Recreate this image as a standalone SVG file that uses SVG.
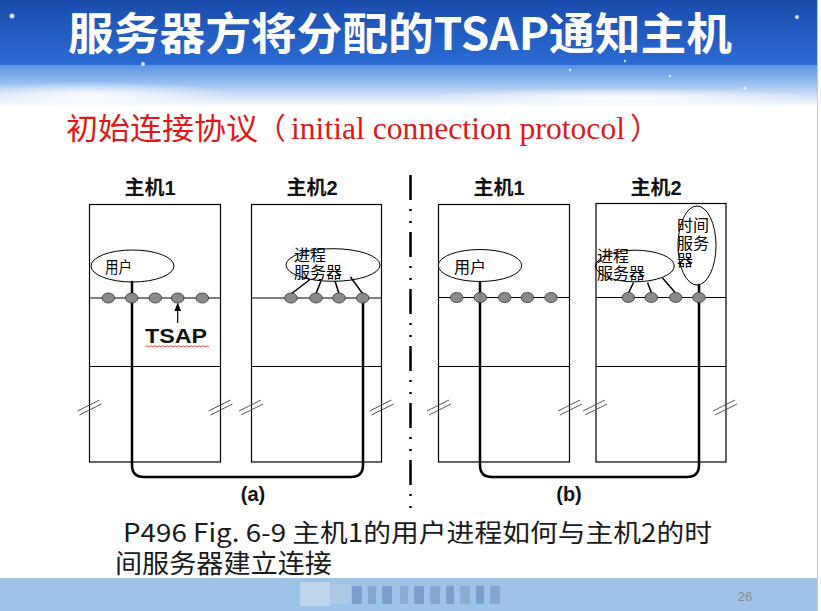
<svg xmlns="http://www.w3.org/2000/svg" width="821" height="611" viewBox="0 0 821 611">
<defs>
<linearGradient id="bgTop" x1="0" y1="0" x2="0" y2="1">
<stop offset="0" stop-color="#1a4bab"/>
<stop offset="1" stop-color="#2b6cd3"/>
</linearGradient>
<linearGradient id="bgFade" x1="0" y1="0" x2="0" y2="1">
<stop offset="0" stop-color="#5a92e2"/>
<stop offset="0.45" stop-color="#9cc0f0"/>
<stop offset="1" stop-color="#ffffff"/>
</linearGradient>
<radialGradient id="cloud" cx="0.5" cy="0.5" r="0.5">
<stop offset="0" stop-color="#ffffff" stop-opacity="0.95"/>
<stop offset="1" stop-color="#ffffff" stop-opacity="0"/>
</radialGradient>
<marker id="arr" viewBox="0 0 10 10" refX="9" refY="5" markerWidth="7" markerHeight="7" orient="auto">
<path d="M0,1 L10,5 L0,9 z" fill="#000"/>
</marker>
<g id="hash">
<line x1="-12" y1="4" x2="10" y2="-7"/>
<line x1="-10" y1="8" x2="12" y2="-3"/>
</g>
<style>
.box{fill:none;stroke:#000;stroke-width:1.2}
.ell{fill:#fff;stroke:#000;stroke-width:1}
.ellc{fill:none;stroke:#000;stroke-width:1}
.port{fill:#8a8a8a;stroke:#333;stroke-width:0.8}
.conn{fill:none;stroke:#000;stroke-width:2.5;stroke-linecap:round}
.thin{stroke:#000;stroke-width:1.5}
.hl{fill:none;stroke:#000;stroke-width:1.2}
.lbl{font-family:"Liberation Sans","Noto Sans CJK SC",sans-serif;font-weight:bold;font-size:20px;fill:#111;text-anchor:middle}
.in{font-family:"Noto Sans CJK SC",sans-serif;font-size:16px;fill:#000}
.hash{stroke:#555;stroke-width:1;fill:none}
</style>
</defs>

<!-- background -->
<rect x="0" y="0" width="821" height="611" fill="#ffffff"/>
<rect x="0" y="0" width="817" height="65" fill="url(#bgTop)"/>
<rect x="0" y="65" width="817" height="42" fill="url(#bgFade)"/>
<ellipse cx="90" cy="96" rx="150" ry="14" fill="url(#cloud)"/>
<ellipse cx="620" cy="98" rx="200" ry="10" fill="url(#cloud)"/>
<g fill="#ffffff" opacity="0.8">
<circle cx="12" cy="16" r="2.5"/>
<circle cx="143" cy="64" r="2"/>
<circle cx="625" cy="61" r="1.2"/>
<circle cx="570" cy="70" r="1.2"/>
<circle cx="670" cy="76" r="1.2"/>
<circle cx="745" cy="88" r="1.5"/>
<circle cx="797" cy="17" r="2"/>
</g>
<line x1="817.5" y1="0" x2="817.5" y2="611" stroke="#c8c8c8" stroke-width="1"/>
<rect x="0" y="578" width="817" height="33" fill="#9dc3e6"/>
<g opacity="0.75">
<rect x="300" y="582" width="30" height="24" fill="#c9dcef"/>
<rect x="330" y="584" width="20" height="20" fill="#b3cbe6"/>
<rect x="352" y="586" width="10" height="18" fill="#6f93c2"/>
<rect x="368" y="586" width="8" height="18" fill="#7c9dc8"/>
<rect x="382" y="586" width="10" height="18" fill="#6f93c2"/>
<rect x="400" y="586" width="8" height="18" fill="#86a5cd"/>
<rect x="414" y="586" width="10" height="18" fill="#6f93c2"/>
<rect x="430" y="586" width="10" height="18" fill="#7c9dc8"/>
<rect x="446" y="586" width="8" height="18" fill="#6f93c2"/>
<rect x="460" y="586" width="10" height="18" fill="#86a5cd"/>
<rect x="476" y="586" width="8" height="18" fill="#6f93c2"/>
<rect x="490" y="586" width="10" height="18" fill="#7c9dc8"/>
</g>
<text x="745" y="601" font-family="Liberation Sans, sans-serif" font-size="13" fill="#8c8c8c" text-anchor="middle">26</text>

<!-- title -->
<text x="68" y="50" font-family="'Noto Sans CJK SC', sans-serif" font-weight="bold" font-size="44" fill="#ffffff" textLength="664" lengthAdjust="spacingAndGlyphs">服务器方将分配的TSAP通知主机</text>

<!-- subtitle -->
<g fill="#e01818">
<text x="66" y="139" font-family="'Noto Sans CJK SC', sans-serif" font-size="30" textLength="192" lengthAdjust="spacingAndGlyphs">初始连接协议</text>
<text x="256" y="139" font-family="'Noto Sans CJK SC', sans-serif" font-size="30">（</text>
<text x="291" y="139" font-family="'Liberation Serif', serif" font-size="31" textLength="334" lengthAdjust="spacingAndGlyphs">initial connection protocol</text>
<text x="630" y="139" font-family="'Noto Sans CJK SC', sans-serif" font-size="30">）</text>
</g>

<!-- divider -->
<line x1="410.5" y1="175" x2="410.5" y2="508" stroke="#000" stroke-width="2.5" stroke-dasharray="25 9 2 10 2 9"/>

<!-- (a) host 1 -->
<g id="a-host1">
<text class="lbl" x="150" y="195">主机1</text>
<rect class="box" x="89.5" y="204.5" width="131" height="257.5"/>
<line class="hl" x1="89.5" y1="298" x2="220.5" y2="298"/>
<line class="hl" x1="89.5" y1="366.5" x2="220.5" y2="366.5"/>
<ellipse class="ell" cx="132.5" cy="266" rx="41.5" ry="16"/>
<text class="in" x="105" y="273" font-size="14" textLength="27" lengthAdjust="spacingAndGlyphs">用户</text>
</g>

<!-- (a) host 2 -->
<g id="a-host2">
<text class="lbl" x="312" y="195">主机2</text>
<rect class="box" x="251.5" y="204.5" width="130" height="257.5"/>
<line class="hl" x1="251.5" y1="298" x2="381.5" y2="298"/>
<line class="hl" x1="251.5" y1="366.5" x2="381.5" y2="366.5"/>
<ellipse class="ell" cx="333" cy="265" rx="47" ry="16.3"/>
<text class="in" x="294" y="261">进程<tspan x="294" dy="17">服务器</tspan></text>
</g>

<!-- (b) host 1 -->
<g id="b-host1">
<text class="lbl" x="499" y="195">主机1</text>
<rect class="box" x="438.5" y="204.5" width="131" height="257.5"/>
<line class="hl" x1="438.5" y1="297.5" x2="569.5" y2="297.5"/>
<line class="hl" x1="438.5" y1="366.5" x2="569.5" y2="366.5"/>
<ellipse class="ell" cx="480" cy="265.5" rx="41.7" ry="16"/>
<text class="in" x="454" y="273" font-size="18">用户</text>
</g>

<!-- (b) host 2 -->
<g id="b-host2">
<text class="lbl" x="656" y="195">主机2</text>
<rect class="box" x="596" y="203.5" width="130" height="258.5"/>
<line class="hl" x1="596" y1="297.5" x2="726" y2="297.5"/>
<line class="hl" x1="596" y1="366.5" x2="726" y2="366.5"/>
<ellipse class="ellc" cx="635" cy="266" rx="39.3" ry="15.8"/>
<text class="in" x="597" y="262">进程<tspan x="597" dy="17">服务器</tspan></text>
<ellipse class="ellc" cx="697" cy="245.5" rx="19" ry="39.5"/>
<text class="in" x="677" y="231">时间<tspan x="677" dy="18">服务</tspan><tspan x="677" dy="16.5">器</tspan></text>
</g>

<!-- break marks -->
<g id="breaks" class="hash">
<use href="#hash" x="89.5" y="407"/>
<use href="#hash" x="220.5" y="407"/>
<use href="#hash" x="251" y="407"/>
<use href="#hash" x="381.5" y="407"/>
<use href="#hash" x="439" y="407"/>
<use href="#hash" x="570" y="407"/>
<use href="#hash" x="595" y="407"/>
<use href="#hash" x="725" y="407"/>
</g>

<!-- connectors -->
<g id="connectors">
<path class="conn" d="M132,282 V465 Q132,477 144,477 H351 Q363,477 363,465 V298"/>
<path class="conn" d="M480,282 V465 Q480,477 492,477 H687 Q699,477 699,465 V285"/>
<line class="thin" x1="291" y1="294" x2="310" y2="279.5"/>
<line class="thin" x1="316" y1="293.5" x2="321" y2="281"/>
<line class="thin" x1="339" y1="293.5" x2="335" y2="281"/>
<line class="thin" x1="362.5" y1="293.5" x2="350.5" y2="277"/>
<line class="thin" x1="628.5" y1="293" x2="633.5" y2="282.5"/>
<line class="thin" x1="651.5" y1="293" x2="647.5" y2="282.5"/>
<line class="thin" x1="675.5" y1="293" x2="662.5" y2="278"/>
<line x1="177.7" y1="323" x2="177.7" y2="303.5" stroke="#000" stroke-width="1.2" marker-end="url(#arr)"/>
</g>

<!-- ports -->
<g id="a-host1-ports">
<ellipse class="port" cx="108.3" cy="298" rx="6.3" ry="5"/>
<ellipse class="port" cx="131.7" cy="298" rx="6.3" ry="5"/>
<ellipse class="port" cx="155.3" cy="298" rx="6.3" ry="5"/>
<ellipse class="port" cx="177.7" cy="298" rx="6.3" ry="5"/>
<ellipse class="port" cx="202.3" cy="298" rx="6.3" ry="5"/>
</g>
<g id="a-host2-ports">
<ellipse class="port" cx="291" cy="298" rx="6.3" ry="5"/>
<ellipse class="port" cx="316" cy="298" rx="6.3" ry="5"/>
<ellipse class="port" cx="339" cy="298" rx="6.3" ry="5"/>
<ellipse class="port" cx="362.7" cy="298" rx="6.3" ry="5"/>
</g>
<g id="b-host1-ports">
<ellipse class="port" cx="456.7" cy="297.5" rx="6.3" ry="5"/>
<ellipse class="port" cx="480.3" cy="297.5" rx="6.3" ry="5"/>
<ellipse class="port" cx="504.7" cy="297.5" rx="6.3" ry="5"/>
<ellipse class="port" cx="527.3" cy="297.5" rx="6.3" ry="5"/>
<ellipse class="port" cx="551" cy="297.5" rx="6.3" ry="5"/>
</g>
<g id="b-host2-ports">
<ellipse class="port" cx="628.3" cy="297.5" rx="6.3" ry="5"/>
<ellipse class="port" cx="651.3" cy="297.5" rx="6.3" ry="5"/>
<ellipse class="port" cx="675.7" cy="297.5" rx="6.3" ry="5"/>
<ellipse class="port" cx="699" cy="297.5" rx="6.3" ry="5"/>
</g>

<!-- TSAP label -->
<g id="tsap">
<text x="145" y="343" font-family="'Liberation Sans', sans-serif" font-weight="bold" font-size="21" fill="#111" textLength="62" lengthAdjust="spacingAndGlyphs">TSAP</text>
<path d="M145,347 l2,-1.3 l2,1.3 l2,-1.3 l2,1.3 l2,-1.3 l2,1.3 l2,-1.3 l2,1.3 l2,-1.3 l2,1.3 l2,-1.3 l2,1.3 l2,-1.3 l2,1.3 l2,-1.3 l2,1.3 l2,-1.3 l2,1.3 l2,-1.3 l2,1.3 l2,-1.3 l2,1.3 l2,-1.3 l2,1.3 l2,-1.3 l2,1.3 l2,-1.3 l2,1.3 l2,-1.3 l2,1.3 l2,-1.3 l2,1.3" fill="none" stroke="#e02020" stroke-width="0.8"/>
</g>

<!-- sub labels -->
<text class="lbl" x="253" y="501" font-size="19">(a)</text>
<text class="lbl" x="569" y="501" font-size="19">(b)</text>

<!-- caption -->
<g font-family="'Noto Sans CJK SC', sans-serif" fill="#1a1a1a">
<text x="123" y="542" font-size="25" textLength="589" lengthAdjust="spacingAndGlyphs">P496 Fig. 6-9 主机1的用户进程如何与主机2的时</text>
<text x="115" y="573" font-size="26" textLength="217" lengthAdjust="spacingAndGlyphs">间服务器建立连接</text>
</g>
</svg>
